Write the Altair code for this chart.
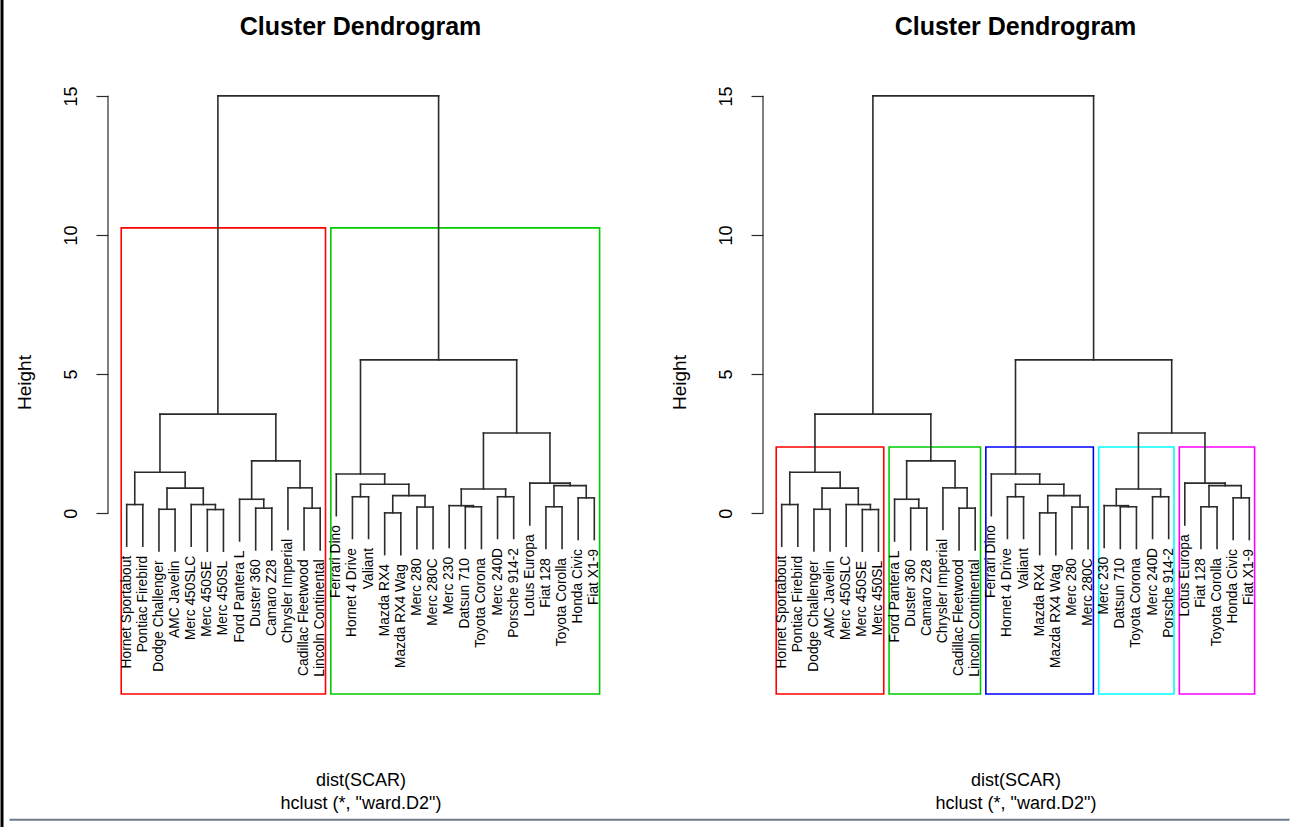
import altair as alt
import pandas as pd

# ---- data -------------------------------------------------------------
# Leaves in the order they are drawn along the dendrogram
LEAVES = [
    "Hornet Sportabout", "Pontiac Firebird", "Dodge Challenger", "AMC Javelin",
    "Merc 450SLC", "Merc 450SE", "Merc 450SL", "Ford Pantera L", "Duster 360",
    "Camaro Z28", "Chrysler Imperial", "Cadillac Fleetwood", "Lincoln Continental",
    "Ferrari Dino", "Hornet 4 Drive", "Valiant", "Mazda RX4", "Mazda RX4 Wag",
    "Merc 280", "Merc 280C", "Merc 230", "Datsun 710", "Toyota Corona",
    "Merc 240D", "Porsche 914-2", "Lotus Europa", "Fiat 128", "Toyota Corolla",
    "Honda Civic", "Fiat X1-9",
]

# hclust-style merge table: negative = leaf (1-based position), positive = earlier merge row
MERGE_A = [-17, -6, -3, -9, -12, -22, -19, -27, -21, -1, -5, -8, -29, -15, -24,
           1, 9, 3, -11, 8, 14, -26, -14, 10, 12, 17, 24, 23, 27]
MERGE_B = [-18, -7, -4, -10, -13, -23, -20, -28, 6, -2, 2, 4, -30, -16, -25,
           7, 15, 11, 5, 13, 16, 20, 21, 18, 19, 22, 25, 26, 28]
HEIGHTS = [0.01, 0.13, 0.14, 0.18, 0.18, 0.23, 0.22, 0.23, 0.27, 0.31, 0.31,
           0.50, 0.55, 0.59, 0.59, 0.63, 0.87, 0.90, 0.91, 0.99, 1.04, 1.08,
           1.41, 1.47, 1.88, 2.88, 3.56, 5.51, 15.0]

TICKS = [0, 5, 10, 15]
CUTS = [2, 5]                      # number of clusters boxed in each panel
BORDER_COLORS = ["#FF0000", "#00CD00", "#0000FF", "#00FFFF", "#FF00FF"]

TITLE = "Cluster Dendrogram"
XLAB = "dist(SCAR)"
SUB = 'hclust (*, "ward.D2")'
YLAB = "Height"

# ---- geometry ---------------------------------------------------------
FONT = "Liberation Sans"
N = len(LEAVES)
HANG = 0.1 * (max(HEIGHTS) - min(HEIGHTS))
X_MIN, X_MAX = 1 - 0.04 * (N - 1), N + 0.04 * (N - 1)
Y_MIN, Y_MAX = -6.5, 15.93
W, H = 505, 624
PX_X = W / (X_MAX - X_MIN)        # pixels per x unit
PX_Y = H / (Y_MAX - Y_MIN)        # pixels per y unit

node_x = {}


def pos(ref):
    return float(-ref) if ref < 0 else node_x[ref]


for i, (a, b) in enumerate(zip(MERGE_A, MERGE_B), start=1):
    node_x[i] = (pos(a) + pos(b)) / 2

seg_rows, leaf_rows = [], []
for i, (a, b, h) in enumerate(zip(MERGE_A, MERGE_B, HEIGHTS), start=1):
    for c in (a, b):
        xc = pos(c)
        if c < 0:
            lo = h - HANG
            leaf_rows.append({"x": xc, "y": lo, "label": LEAVES[-c - 1]})
        else:
            lo = HEIGHTS[c - 1]
        seg_rows.append({"x": xc, "y": lo, "x2": xc, "y2": h})
    seg_rows.append({"x": pos(a), "y": h, "x2": pos(b), "y2": h})

segments = pd.DataFrame(seg_rows)
leaf_df = pd.DataFrame(leaf_rows)
axis_span = pd.DataFrame({"x": [X_MIN], "y": [TICKS[0]], "y2": [TICKS[-1]]})


def leaves_of(ref):
    if ref < 0:
        return [-ref]
    return leaves_of(MERGE_A[ref - 1]) + leaves_of(MERGE_B[ref - 1])


def cluster_boxes(k):
    by_height = sorted(range(1, len(HEIGHTS) + 1), key=lambda i: HEIGHTS[i - 1])
    cut = set(by_height[len(by_height) - (k - 1):])
    stack, groups = [len(HEIGHTS)], []
    while stack:
        nd = stack.pop()
        if nd > 0 and nd in cut:
            stack += [MERGE_A[nd - 1], MERGE_B[nd - 1]]
        else:
            lv = leaves_of(nd)
            groups.append((min(lv), max(lv)))
    groups.sort()
    desc = sorted(HEIGHTS, reverse=True)
    top = (desc[k - 2] + desc[k - 1]) / 2
    return pd.DataFrame([
        {"x": lo - 0.34, "x2": hi + 0.33, "y": Y_MIN, "y2": top,
         "cid": "c%d" % (j + 1)}
        for j, (lo, hi) in enumerate(groups)
    ])


def frame_band(left, right, top, bottom):
    """Pixel offsets from the plot's top-left corner, expressed in data units."""
    return pd.DataFrame({
        "x": [X_MIN + left / PX_X], "x2": [X_MIN + right / PX_X],
        "y": [Y_MAX - top / PX_Y], "y2": [Y_MAX - bottom / PX_Y],
    })


CLUSTER_IDS = ["c%d" % (j + 1) for j in range(len(BORDER_COLORS))]

xs = alt.Scale(domain=[X_MIN, X_MAX], nice=False, zero=False)
ys = alt.Scale(domain=[Y_MIN, Y_MAX], nice=False, zero=False)

y_axis = alt.Axis(
    values=TICKS, domain=False, grid=False, tickSize=12, tickColor="#2b2b2b",
    tickWidth=1.2, labelAngle=270, labelAlign="center", labelBaseline="middle",
    labelPadding=25, labelFontSize=18, labelFont=FONT, labelColor="black",
    title=YLAB, titleAngle=270, titleX=-84, titleAlign="center",
    titleBaseline="middle", titleFontSize=19, titleFont=FONT,
    titleFontWeight="normal", titleColor="black",
)

# bottom axis carries only the two caption lines under the plot
x_axis = alt.Axis(
    labels=False, ticks=False, domain=False, grid=False,
    title=[XLAB, SUB], titleFontSize=18, titleFont=FONT,
    titleFontWeight="normal", titleColor="black", titleLineHeight=23,
    titleBaseline="top", titleY=77,
)


def X(field):
    return alt.X(field, type="quantitative", scale=xs, axis=x_axis)


def Y(field):
    return alt.Y(field, type="quantitative", scale=ys, axis=y_axis)


def panel(k, framed=False):
    tree = alt.Chart(segments).mark_rule(
        color="#2b2b2b", strokeWidth=1.6, strokeCap="square"
    ).encode(x=X("x"), y=Y("y"), x2="x2", y2="y2")

    axis_line = alt.Chart(axis_span).mark_rule(
        color="#2b2b2b", strokeWidth=1.2
    ).encode(x=X("x"), y=Y("y"), y2="y2")

    boxes = alt.Chart(cluster_boxes(k)).mark_rect(
        fillOpacity=0, strokeWidth=1.6
    ).encode(
        x=X("x"), x2="x2", y=Y("y"), y2="y2",
        stroke=alt.Stroke(
            "cid:N", scale=alt.Scale(domain=CLUSTER_IDS, range=BORDER_COLORS),
            legend=None,
        ),
    )

    labels = alt.Chart(leaf_df).mark_text(
        angle=270, align="right", baseline="middle", dx=-9.5,
        fontSize=13.8, font=FONT, color="black",
    ).encode(x=X("x"), y=Y("y"), text="label:N")

    layers = [boxes, tree, axis_line, labels]
    title_offset = 18
    if framed:
        # window edge on the left and the rule along the bottom
        edge = alt.Chart(frame_band(-107.5, -104.5, -69.9, 757.1)).mark_rect(
            color="black"
        ).encode(x=X("x"), x2="x2", y=Y("y"), y2="y2")
        base = alt.Chart(frame_band(-98.5, 1181.5, 748.8, 750.8)).mark_rect(
            color="#6e7b88"
        ).encode(x=X("x"), x2="x2", y=Y("y"), y2="y2")
        layers += [edge, base]
        title_offset = -52

    return alt.layer(*layers).properties(
        width=W, height=H,
        title=alt.TitleParams(
            TITLE, fontSize=25, fontWeight="bold", font=FONT, color="black",
            anchor="middle", frame="group", baseline="middle",
            offset=title_offset,
        ),
    )


chart = alt.hconcat(
    panel(CUTS[0], framed=True), panel(CUTS[1]), spacing=150, bounds="flush"
).properties(padding=0, background="white").configure_view(strokeWidth=0)

chart.save("out.html", embed_options={"renderer": "svg", "actions": False})
